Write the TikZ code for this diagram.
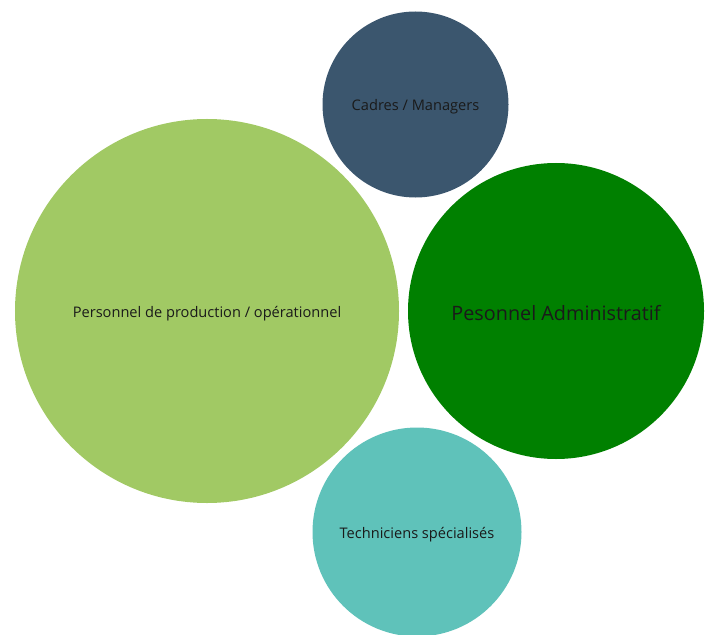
\documentclass[tikz,border=0pt]{standalone}
\usepackage{fontspec}
\setmainfont{Open Sans}
\definecolor{lgreen}{HTML}{A1C964}
\definecolor{slate}{HTML}{3B566E}
\definecolor{dgreen}{HTML}{008000}
\definecolor{teal2}{HTML}{5FC2BA}
\definecolor{txt}{HTML}{1A1A1A}
\tikzset{
  bubble/.style={circle, inner sep=0pt, draw=none},
  lbl/.style={inner sep=0pt, text=txt, align=center, yshift=-2.5bp},
  smalltxt/.style={font=\fontsize{14.6bp}{17bp}\selectfont},
  bigtxt/.style={font=\fontsize{19.8bp}{23bp}\selectfont}
}
\begin{document}
\begin{tikzpicture}[x=1bp,y=-1bp]
\useasboundingbox (0,0) rectangle (712,635);
\node[bubble, fill=lgreen, minimum size=384bp] (prod) at (207,311) {};
\node[bubble, fill=slate, minimum size=186bp] (cadres) at (415.5,104.5) {};
\node[bubble, fill=dgreen, minimum size=296bp] (admin) at (556,311) {};
\node[bubble, fill=teal2, minimum size=209bp] (tech) at (417,532) {};
\node[lbl, smalltxt] (prodlbl) at (prod.center) {Personnel de production / opérationnel};
\node[lbl, smalltxt] (cadreslbl) at (cadres.center) {Cadres / Managers};
\node[lbl, bigtxt] (adminlbl) at (admin.center) {Pesonnel Administratif};
\node[lbl, smalltxt] (techlbl) at (tech.center) {Techniciens spécialisés};
\end{tikzpicture}
\end{document}
